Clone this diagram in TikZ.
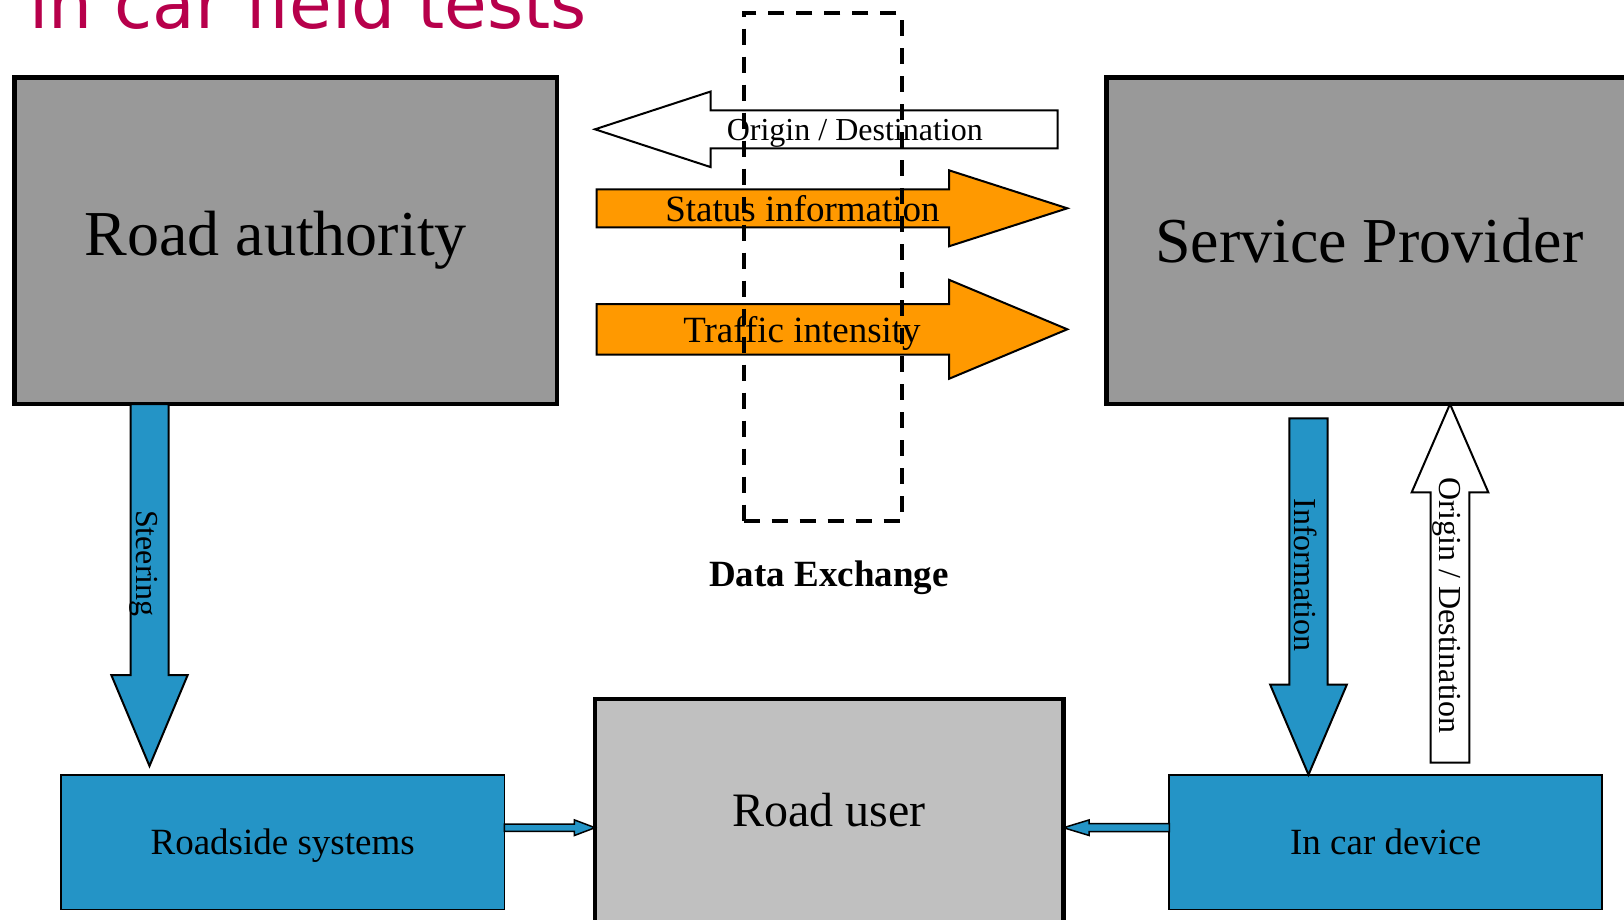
\documentclass[tikz,border=0pt]{standalone}
\usepackage{fontspec}
\setmainfont{Liberation Serif}
\newfontfamily\headfont{DejaVu Sans}
\usetikzlibrary{calc}

\definecolor{authgray}{HTML}{999999}
\definecolor{usergray}{HTML}{C0C0C0}
\definecolor{infoblue}{HTML}{2494C6}
\definecolor{floworange}{HTML}{FF9900}
\definecolor{headred}{HTML}{B7004B}

\newcommand{\fsz}[1]{\fontsize{#1}{#1}\selectfont}

% block arrow: tail, tip, half shaft width, half head width, head length
\newcommand{\fatarrow}[6][]{%
  \path ($(#3)!#6!(#2)$) coordinate (neck);
  \draw[#1] ($(#2)!#4!90:(#3)$) -- ($(neck)!#4!-90:(#2)$)
    -- ($(neck)!#5!-90:(#2)$) -- (#3) -- ($(neck)!#5!90:(#2)$)
    -- ($(neck)!#4!90:(#2)$) -- ($(#2)!#4!-90:(#3)$) -- cycle;
}

\begin{document}
\begin{tikzpicture}[x=1pt, y=-1pt,
    bigbox/.style={draw, line width=4.5pt, fill=authgray, inner sep=0pt, outer sep=0pt, anchor=north west},
    sidebox/.style={draw, line width=1.8pt, fill=infoblue, inner sep=0pt, outer sep=0pt, anchor=north west,
      text depth=0pt, font=\fsz{37}},
    dashbox/.style={draw, line width=4pt, dash pattern=on 16pt off 12pt, inner sep=0pt, outer sep=0pt, anchor=north west},
    bluearrow/.style={draw, line width=2pt, fill=infoblue},
    orangearrow/.style={draw, line width=2pt, fill=floworange},
    whitearrow/.style={draw, line width=2pt, fill=white},
    lbl/.style={anchor=base, inner sep=0pt, font=\fsz{32}},
    vlbl/.style={lbl, rotate=-90}]
  \useasboundingbox (0,0) rectangle (1624,920);
  \clip (0,0) rectangle (1624,920);

  \node[anchor=base west, inner sep=0pt, text=headred, font=\headfont\fsz{69.4}] (title) at (29,29) {in car field tests};

  % the parties
  \node[bigbox, minimum width=542.5pt, minimum height=326.3pt] (ra) at (14.5,77.7) {};
  \node[font=\fsz{64}] (ra-lbl) at ([xshift=-10pt, yshift=1pt]ra.center) {Road authority};
  \node[bigbox, minimum width=525pt, minimum height=326.3pt, font=\fsz{64}] (sp) at (1106.7,77.7) {Service Provider};
  \node[bigbox, fill=usergray, minimum width=468.5pt, minimum height=223pt, font=\fsz{48}] (ru) at (595,699) {Road user};
  \node[sidebox, minimum width=443.4pt, minimum height=134.7pt] (rs) at (61,774.7) {Roadside systems};
  \node[sidebox, minimum width=432.7pt, minimum height=134.7pt] (icd) at (1169.3,774.7) {In car device};

  % arrow ends
  \coordinate (od-a) at (1057.7,129.3);
  \coordinate (od-b) at (595,129.3);
  \coordinate (si-a) at (596.7,208.3);
  \coordinate (si-b) at (1067.3,208.3);
  \coordinate (ti-a) at (596.7,329.3);
  \coordinate (ti-b) at (1067.3,329.3);
  \coordinate (steer-a) at (ra.south -| 149.5,0);
  \coordinate (steer-b) at (149.5,766);
  \coordinate (info-a) at (1308.5,418.3);
  \coordinate (info-b) at (icd.north -| 1308.5,0);
  \coordinate (back-a) at (1450,762.7);
  \coordinate (back-b) at (sp.south -| 1450,0);
  \coordinate (rs-out) at (rs.east |- 0,827.7);
  \coordinate (ru-in1) at (ru.west |- 0,827.7);
  \coordinate (icd-out) at (icd.west |- 0,827.7);
  \coordinate (ru-in2) at (ru.east |- 0,827.7);

  % data exchange
  \fatarrow[whitearrow]{od-a}{od-b}{19pt}{37.8pt}{115.7pt}
  \fatarrow[orangearrow]{si-a}{si-b}{19pt}{38pt}{118.3pt}
  \fatarrow[orangearrow]{ti-a}{ti-b}{25.3pt}{49.5pt}{118.3pt}
  \node[lbl] (od-lbl) at (854.8,141) {Origin / Destination};
  \node[lbl, font=\fsz{37}] (si-lbl) at (802.5,221.7) {Status information};
  \node[lbl, font=\fsz{37}] (ti-lbl) at (802,342.3) {Traffic intensity};

  % down to the road and back
  \fatarrow[bluearrow]{steer-a}{steer-b}{19pt}{38.2pt}{91pt}
  \fatarrow[bluearrow]{info-a}{info-b}{19.2pt}{38.3pt}{90pt}
  \fatarrow[whitearrow]{back-a}{back-b}{19.3pt}{38.3pt}{88.3pt}
  \node[vlbl] (steer-lbl) at (136.7,563.4) {Steering};
  \node[vlbl] (info-lbl) at (1294,575) {Information};
  \node[vlbl] (back-lbl) at (1439,605.8) {Origin / Destination};

  \fatarrow[bluearrow, line width=1.5pt]{rs-out}{ru-in1}{3.7pt}{7.8pt}{20.6pt}
  \fatarrow[bluearrow, line width=1.5pt]{icd-out}{ru-in2}{4pt}{7.8pt}{25.7pt}

  \node[dashbox, minimum width=158.5pt, minimum height=507.8pt] (dx) at (743.5,13.5) {};
  \node[lbl, font=\fsz{37}\bfseries] (dx-lbl) at (829,586) {Data Exchange};
\end{tikzpicture}
\end{document}
